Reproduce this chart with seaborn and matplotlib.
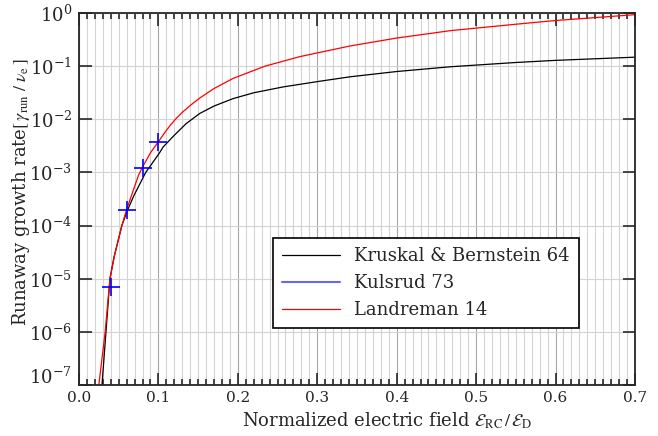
import numpy as np
import pandas as pd
import seaborn as sns
import matplotlib.pyplot as plt
import matplotlib.transforms as mtransforms
from matplotlib.lines import Line2D
from matplotlib.ticker import MultipleLocator, FixedLocator, NullLocator

# values (x = E_RC/E_D, y = log10 growth rate)
kb_x = [0.029, 0.034, 0.039, 0.044, 0.054, 0.060, 0.069, 0.084, 0.101, 0.106,
        0.120, 0.135, 0.152, 0.170, 0.194, 0.220, 0.257, 0.300, 0.341, 0.400,
        0.468, 0.550, 0.600, 0.650, 0.700]
kb_log = [-7.0, -6.0, -5.0, -4.6, -4.0, -3.75, -3.44, -3.0, -2.64, -2.52,
          -2.30, -2.08, -1.89, -1.75, -1.61, -1.50, -1.39, -1.29, -1.20, -1.10,
          -1.01, -0.93, -0.89, -0.86, -0.83]

lan_x = [0.025, 0.033, 0.039, 0.045, 0.054, 0.060, 0.075, 0.080, 0.090, 0.101,
         0.108, 0.115, 0.122, 0.130, 0.140, 0.152, 0.170, 0.194, 0.234, 0.278,
         0.341, 0.400, 0.468, 0.550, 0.600, 0.650, 0.700]
lan_log = [-7.0, -6.0, -5.0, -4.55, -4.0, -3.7, -3.05, -2.9, -2.63, -2.40,
           -2.25, -2.11, -1.99, -1.87, -1.74, -1.60, -1.42, -1.23, -1.0, -0.82,
           -0.62, -0.47, -0.33, -0.21, -0.14, -0.085, -0.03]

kul_x = [0.04, 0.06, 0.08, 0.10]
kul_y = [7.0e-6, 2.0e-4, 1.2e-3, 3.8e-3]

y_ticks = [1e-7, 1e-6, 1e-5, 1e-4, 1e-3, 1e-2, 1e-1, 1e0]

sns.set_style("ticks")
plt.rcParams['font.family'] = ['DejaVu Serif']
plt.rcParams['mathtext.fontset'] = 'stix'

kb = pd.DataFrame({"x": kb_x, "y": 10.0 ** np.array(kb_log)})
lan = pd.DataFrame({"x": lan_x, "y": 10.0 ** np.array(lan_log)})
kul = pd.DataFrame({"x": kul_x, "y": kul_y})

fig = plt.figure(figsize=(6.58, 4.36), dpi=100)
ax = fig.add_axes([0.12, 0.117, 0.845, 0.853])

sns.lineplot(data=kb, x="x", y="y", color="black", lw=0.9, ax=ax)
sns.lineplot(data=lan, x="x", y="y", color="red", lw=0.9, ax=ax)
ax.plot(kul["x"], kul["y"], ls="none", marker="+", ms=13, mew=1.2, color="blue")

ax.set_yscale("log")
ax.set_xlim(0, 0.7)
ax.set_ylim(1e-7, 1)

ax.xaxis.set_major_locator(MultipleLocator(0.1))
ax.xaxis.set_minor_locator(MultipleLocator(0.01))
ax.yaxis.set_major_locator(FixedLocator(y_ticks))
ax.yaxis.set_minor_locator(NullLocator())

ax.grid(which="minor", axis="x", color="#d4d4d4", lw=0.8)
ax.grid(which="major", axis="x", color="#a8a8a8", lw=0.8)
ax.grid(which="major", axis="y", color="#d4d4d4", lw=0.8)
ax.set_axisbelow(True)

ax.tick_params(which="both", direction="in", top=True, right=True, width=1.2)
ax.tick_params(which="major", length=9)
ax.tick_params(which="minor", length=4)
ax.tick_params(axis="x", labelsize=11, pad=4)
ax.tick_params(axis="y", labelsize=13, pad=5)
for s in ax.spines.values():
    s.set_linewidth(1.3)

# lift the lowest y label a little, as in the original, so it clears "0.0"
lift = mtransforms.ScaledTranslation(0, 7 / 72, fig.dpi_scale_trans)
bottom_tick = ax.yaxis.get_major_ticks()[0]
bottom_tick.label1.set_transform(bottom_tick.label1.get_transform() + lift)

ax.set_xlabel(r"Normalized electric field $\mathcal{E}_{\rm RC}\,/\,\mathcal{E}_{\rm D}$",
              fontsize=13)
ax.xaxis.set_label_coords(0.554, -0.068)
ax.set_ylabel(r"Runaway growth rate$\left[\,\gamma_{\rm run}\ /\ \nu_{\rm e}\,\right]$",
              fontsize=13)
ax.yaxis.set_label_coords(-0.085, 0.52)

handles = [Line2D([], [], color="black", lw=0.9),
           Line2D([], [], color="#6666ff", lw=1.5),
           Line2D([], [], color="red", lw=0.9)]
leg = ax.legend(handles, ["Kruskal & Bernstein 64", "Kulsrud 73", "Landreman 14"],
                loc="lower right", bbox_to_anchor=(0.915, 0.129), fontsize=13,
                fancybox=False, framealpha=1, edgecolor="black", handlelength=3.2,
                borderpad=0.5, labelspacing=0.5)
leg.get_frame().set_linewidth(1.2)

fig.savefig("out.png", dpi=100)
